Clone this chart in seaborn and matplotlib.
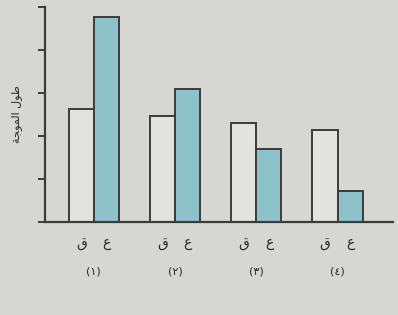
"""Paired bar chart: two conditions across four groups (Arabic labels)."""

import matplotlib

matplotlib.use("Agg")
import matplotlib.pyplot as plt
import pandas as pd
import seaborn as sns

groups = ["(١)", "(٢)", "(٣)", "(٤)"]
conditions = ["ﻕ", "ﻉ"]
white_values = [2.63, 2.46, 2.30, 2.14]
teal_values = [4.77, 3.10, 1.69, 0.73]
y_ticks = [0, 1, 2, 3, 4, 5]
# "طول الموجة" written in presentation forms, visual order
y_label = "ﺔﺠﻮﻤﻟا ﻝﻮﻃ"

BG = "#d6d7d3"
EDGE = "#3b3b3b"

df = pd.DataFrame({
    "group": groups * 2,
    "condition": [conditions[0]] * 4 + [conditions[1]] * 4,
    "value": white_values + teal_values,
})

sns.set_style("white")
plt.rcParams["font.family"] = ["DejaVu Sans"]

fig = plt.figure(figsize=(3.98, 3.15), dpi=100, facecolor=BG)
ax = fig.add_axes([0.113, 0.295, 0.874, 0.683])
ax.set_facecolor(BG)

width = 0.62
sns.barplot(
    data=df, x="group", y="value", hue="condition",
    palette={conditions[0]: "#e2e3df", conditions[1]: "#8ec2ca"},
    saturation=1, width=width, edgecolor=EDGE, linewidth=1.4,
    legend=False, ax=ax,
)

ax.set_ylim(y_ticks[0], y_ticks[-1])
ax.set_xlim(-0.6, 3.68)
ax.set_yticks(y_ticks)
ax.set_yticklabels([])
ax.tick_params(axis="y", direction="out", length=5, width=1.4, color=EDGE, left=True)

# small condition labels under each bar, group number beneath
ax.set_xticks(range(len(groups)))
ax.set_xticklabels(groups, fontsize=8, color="#2a2a2a")
ax.tick_params(axis="x", length=0, pad=32)
off = width / 4
minor = [i + s * off for i in range(len(groups)) for s in (-1, 1)]
ax.set_xticks(minor, minor=True)
ax.set_xticklabels(conditions * len(groups), minor=True, fontsize=10, color="#2a2a2a")
ax.tick_params(axis="x", which="minor", length=0, pad=10)

ax.set_xlabel("")
ax.set_ylabel(y_label, fontsize=8, color="#2a2a2a", labelpad=8)

for side in ("top", "right"):
    ax.spines[side].set_visible(False)
for side in ("left", "bottom"):
    ax.spines[side].set_color(EDGE)
    ax.spines[side].set_linewidth(1.6)

fig.savefig("out.png", dpi=100, facecolor=BG)
plt.close(fig)
